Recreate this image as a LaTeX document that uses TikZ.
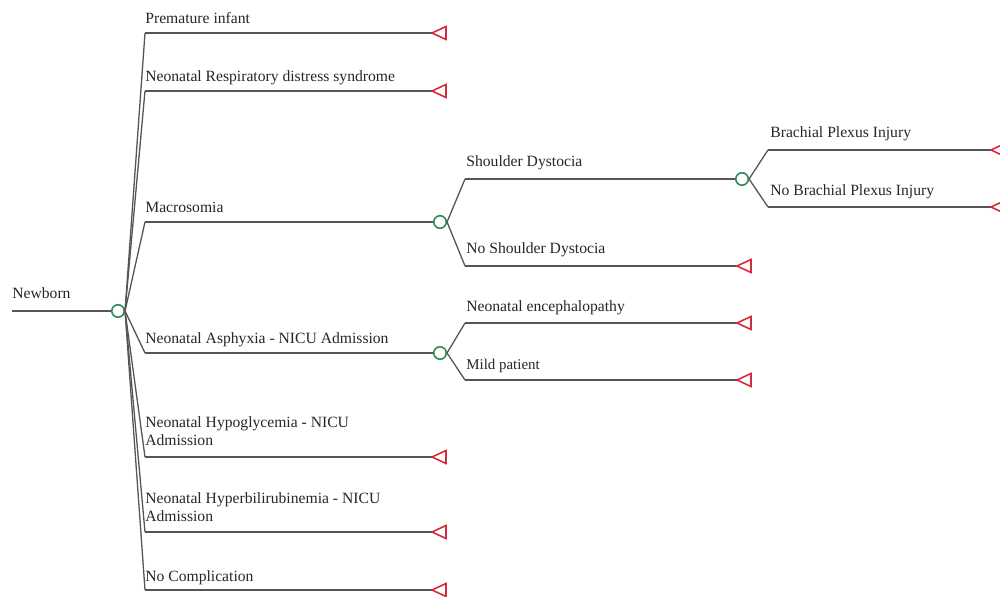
\documentclass[tikz,border=0pt]{standalone}
\usepackage{fontspec}
\setmainfont{Liberation Serif}
\definecolor{lin}{HTML}{555555}
\definecolor{chg}{HTML}{2E8B57}
\definecolor{trm}{HTML}{D42A3C}
\begin{document}
\begin{tikzpicture}[x=0.02cm,y=-0.02cm,
  br/.style={draw=lin,line width=1.3pt*0.567},
  chance/.style={circle,draw=chg,line width=0.9pt,minimum size=0.25cm,inner sep=0pt,fill=white},
  term/.style={draw=trm,line width=0.9pt,fill=white},
  lab/.style={anchor=base west,inner sep=0pt,font=\fontsize{8.9pt}{10.2pt}\selectfont,text=black!85,align=left}]
\useasboundingbox (0,0) rectangle (1000,597);
\clip (0,0) rectangle (1000,597);
% root
\coordinate (nb) at (12,311);
\node[chance] (c0) at (118,311) {};
\draw[br] (nb) -- (c0.west);
\node[lab] at (12,299) {Newborn};
% first-level branch corner points
\foreach \n/\y in {p/33,r/91,m/222,a/353,h/457,b/532,n/590}{
  \coordinate (k\n) at (145,\y);
  \draw[br] (c0.east) -- (k\n);
}
% terminals first level
\foreach \n/\y in {p/33,r/91,h/457,b/532,n/590}{
  \coordinate (t\n) at (432,\y);
  \draw[br] (k\n) -- (t\n);
  \draw[term] (t\n) -- ++(14,-6.5) -- ++(0,13) -- cycle;
}
\node[lab] at (145,24) {Premature infant};
\node[lab] at (145,82) {Neonatal Respiratory distress syndrome};
\node[lab] at (145,213) {Macrosomia};
\node[lab] at (145,344) {Neonatal Asphyxia - NICU Admission};
\node[lab] at (145,445) {Neonatal Hypoglycemia - NICU\\Admission};
\node[lab] at (145,521) {Neonatal Hyperbilirubinemia - NICU\\Admission};
\node[lab] at (145,581) {No Complication};
% macrosomia chance
\node[chance] (c1) at (440,222) {};
\draw[br] (km) -- (c1.west);
\coordinate (ks) at (465,179);
\coordinate (kns) at (465,266);
\draw[br] (c1.east) -- (ks);
\draw[br] (c1.east) -- (kns);
\node[chance] (c2) at (742,179) {};
\draw[br] (ks) -- (c2.west);
\coordinate (tns) at (737,266);
\draw[br] (kns) -- (tns);
\draw[term] (tns) -- ++(14,-6.5) -- ++(0,13) -- cycle;
\node[lab] at (466,167) {Shoulder Dystocia};
\node[lab] at (466,254) {No Shoulder Dystocia};
% brachial
\coordinate (kbp) at (768,150);
\coordinate (knbp) at (768,207);
\draw[br] (c2.east) -- (kbp);
\draw[br] (c2.east) -- (knbp);
\coordinate (tbp) at (991,150);
\coordinate (tnbp) at (991,207);
\draw[br] (kbp) -- (tbp);
\draw[br] (knbp) -- (tnbp);
\draw[term] (tbp) -- ++(14,-6.5) -- ++(0,13) -- cycle;
\draw[term] (tnbp) -- ++(14,-6.5) -- ++(0,13) -- cycle;
\node[lab] at (770,138) {Brachial Plexus Injury};
\node[lab] at (770,196) {No Brachial Plexus Injury};
% asphyxia chance
\node[chance] (c3) at (440,353) {};
\draw[br] (ka) -- (c3.west);
\coordinate (ke) at (465,323);
\coordinate (kmp) at (465,380);
\draw[br] (c3.east) -- (ke);
\draw[br] (c3.east) -- (kmp);
\coordinate (te) at (737,323);
\coordinate (tmp) at (737,380);
\draw[br] (ke) -- (te);
\draw[br] (kmp) -- (tmp);
\draw[term] (te) -- ++(14,-6.5) -- ++(0,13) -- cycle;
\draw[term] (tmp) -- ++(14,-6.5) -- ++(0,13) -- cycle;
\node[lab] at (466,312) {Neonatal encephalopathy};
\node[lab] at (466,370) {\fontsize{8.5pt}{9pt}\selectfont Mild patient};
\end{tikzpicture}
\end{document}
